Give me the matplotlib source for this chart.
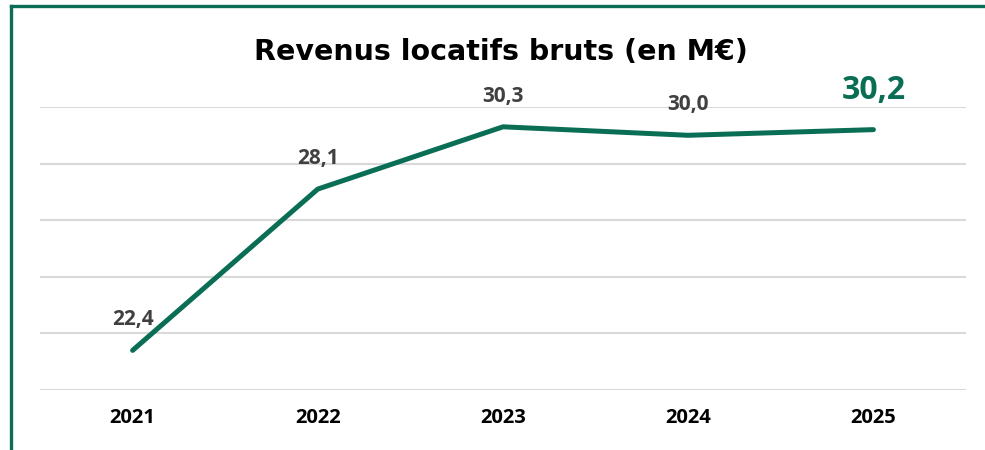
import matplotlib.pyplot as plt
from matplotlib.lines import Line2D

# data
years = ['2021', '2022', '2023', '2024', '2025']
revenus = [22.4, 28.1, 30.3, 30.0, 30.2]
labels = ['22,4', '28,1', '30,3', '30,0', '30,2']

green = '#0a6e55'
grey_txt = '#404040'
lab_font = 'Open Sans'

fig = plt.figure(figsize=(9.85, 4.5), dpi=100, facecolor='w')
ax = fig.add_axes([40 / 985, 1 - 390 / 450, 926 / 985, 283 / 450])

x = list(range(len(years)))
ax.plot(x, revenus, color=green, lw=3.6, solid_capstyle='round', solid_joinstyle='round', zorder=3)

# value labels above each point, last one highlighted
for i, (v, lab) in enumerate(zip(revenus, labels)):
	if i == len(revenus) - 1:
		ax.annotate(lab, (i, v), xytext=(0, 28), textcoords='offset points',
					ha='center', va='center', fontsize=23, fontweight='bold',
					family=lab_font, color=green)
	else:
		ax.annotate(lab, (i, v), xytext=(0, 22), textcoords='offset points',
					ha='center', va='center', fontsize=15, fontweight='bold',
					family=lab_font, color=grey_txt)

ax.set_xlim(-0.5, len(years) - 0.5)
ax.set_ylim(21, 31)
ax.set_yticks([21, 23, 25, 27, 29, 31])
ax.set_yticklabels([])
ax.set_xticks(x)
ax.set_xticklabels(years, fontsize=14.5, fontweight='bold', family=lab_font)
ax.tick_params(axis='both', length=0)
ax.tick_params(axis='x', pad=13)
ax.grid(axis='y', color='#d9d9d9', lw=1.5)
ax.set_axisbelow(True)
for s in ax.spines.values():
	s.set_visible(False)

fig.text(501 / 985, 1 - 52 / 450, 'Revenus locatifs bruts (en M€)',
		 ha='center', va='center', fontsize=20.5, fontweight='bold', family='DejaVu Sans')

# green frame on the left and top
fig.add_artist(Line2D([11 / 985, 11 / 985], [0, 1 - 5.5 / 450], color=green, lw=2.4, transform=fig.transFigure))
fig.add_artist(Line2D([11 / 985, 1], [1 - 5.5 / 450, 1 - 5.5 / 450], color=green, lw=2.4, transform=fig.transFigure))

fig.savefig('out.png', dpi=100)
